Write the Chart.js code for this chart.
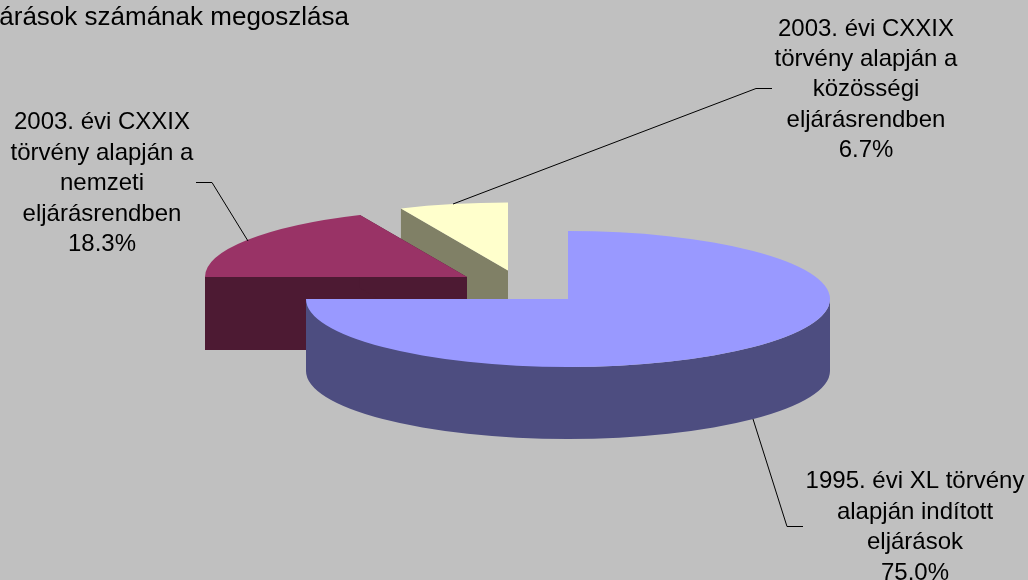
<!DOCTYPE html>
<html>
<head>
<meta charset="utf-8">
<style>
  html, body { margin: 0; padding: 0; background: #c0c0c0; overflow: hidden; }
  canvas { display: block; }
</style>
<script src="https://cdn.jsdelivr.net/npm/chart.js@4/dist/chart.umd.min.js"></script>
</head>
<body>
<canvas id="pieChart" width="1028" height="580"></canvas>
<script>
const categories = [
  "1995. évi XL törvény alapján indított eljárások",
  "2003. évi CXXIX törvény alapján a nemzeti eljárásrendben",
  "2003. évi CXXIX törvény alapján a közösségi eljárásrendben",
];
const shares = [75.0, 18.3, 6.7];
const titleText = "árások számának megoszlása";
const labelLines = [
  ["1995. évi XL törvény", "alapján indított", "eljárások"],
  ["2003. évi CXXIX", "törvény alapján a", "nemzeti", "eljárásrendben"],
  ["2003. évi CXXIX", "törvény alapján a", "közösségi", "eljárásrendben"],
];

const topColors = ["#9999ff", "#993366", "#ffffcc"];
const wallColors = ["#4d4d80", "#4d1a33", "#808066"];

// the exploded pie: where each slice sits on the page, and the tilt
const sliceCenters = [[568, 299], [467, 277], [508, 270.5]];
const sliceDepths = [72, 73, 72];
const pieRadius = 262;
const tilt = 68 / 262;

const labelBoxes = [
  { x: 915, y: 488, step: 30.5 },
  { x: 102, y: 129, step: 30.5 },
  { x: 866, y: 36, step: 30.2 },
];
const leaders = [
  [[753, 419], [787, 526.5], [803, 526.5]],
  [[248, 241], [212, 182.5], [196, 182.5]],
  [[453, 204], [756, 88.5], [772, 88.5]],
];

function fillSideFace(ctx, cx, cy, radius, angle, depth) {
  const x = cx + radius * Math.cos(angle);
  const y = cy + radius * tilt * Math.sin(angle);
  ctx.beginPath();
  ctx.moveTo(cx, cy);
  ctx.lineTo(x, y);
  ctx.lineTo(x, y + depth);
  ctx.lineTo(cx, cy + depth);
  ctx.closePath();
  ctx.fill();
}

function fillRim(ctx, cx, cy, radius, start, end, depth) {
  // only the front half of the rim can be seen
  const from = Math.max(start, 0);
  const to = Math.min(end, Math.PI);
  if (to <= from) return;
  ctx.beginPath();
  ctx.ellipse(cx, cy, radius, radius * tilt, 0, from, to);
  ctx.ellipse(cx, cy + depth, radius, radius * tilt, 0, to, from, true);
  ctx.closePath();
  ctx.fill();
}

const pie3d = {
  id: "pie3d",
  beforeDatasetsDraw(chart) {
    const ctx = chart.ctx;
    const arcs = chart.getDatasetMeta(0).data;

    // back to front, each slice is its walls and then its top
    [2, 1, 0].forEach((i) => {
      const arc = arcs[i];
      const [cx, cy] = sliceCenters[i];
      const depth = sliceDepths[i];

      ctx.fillStyle = wallColors[i];
      fillSideFace(ctx, cx, cy, arc.outerRadius, arc.startAngle, depth);
      fillSideFace(ctx, cx, cy, arc.outerRadius, arc.endAngle, depth);
      fillRim(ctx, cx, cy, arc.outerRadius, arc.startAngle, arc.endAngle, depth);

      ctx.save();
      ctx.translate(cx, cy);
      ctx.scale(1, tilt);
      ctx.translate(-arc.x, -arc.y);
      arc.draw(ctx);
      ctx.restore();
    });

    // leader lines
    ctx.strokeStyle = "#000000";
    ctx.lineWidth = 1;
    leaders.forEach((points) => {
      ctx.beginPath();
      points.forEach(([x, y], n) => (n ? ctx.lineTo(x, y) : ctx.moveTo(x, y)));
      ctx.stroke();
    });

    // title and labels
    ctx.fillStyle = "#000000";
    ctx.textBaseline = "alphabetic";
    ctx.font = '26px "Liberation Sans", Arial, sans-serif';
    ctx.textAlign = "right";
    ctx.fillText(titleText, 349, 25);

    ctx.font = '24px "Liberation Sans", Arial, sans-serif';
    ctx.textAlign = "center";
    labelBoxes.forEach((box, i) => {
      const lines = labelLines[i].concat(shares[i].toFixed(1) + "%");
      lines.forEach((line, n) => {
        ctx.fillText(line, box.x, box.y + n * box.step);
      });
    });

    return false;
  },
};

new Chart(document.getElementById("pieChart"), {
  type: "pie",
  data: {
    labels: categories,
    datasets: [
      {
        data: shares,
        backgroundColor: topColors,
        borderWidth: 0,
      },
    ],
  },
  options: {
    responsive: false,
    animation: false,
    events: [],
    radius: pieRadius,
    plugins: {
      legend: { display: false },
      tooltip: { enabled: false },
    },
  },
  plugins: [pie3d],
});
</script>
</body>
</html>
